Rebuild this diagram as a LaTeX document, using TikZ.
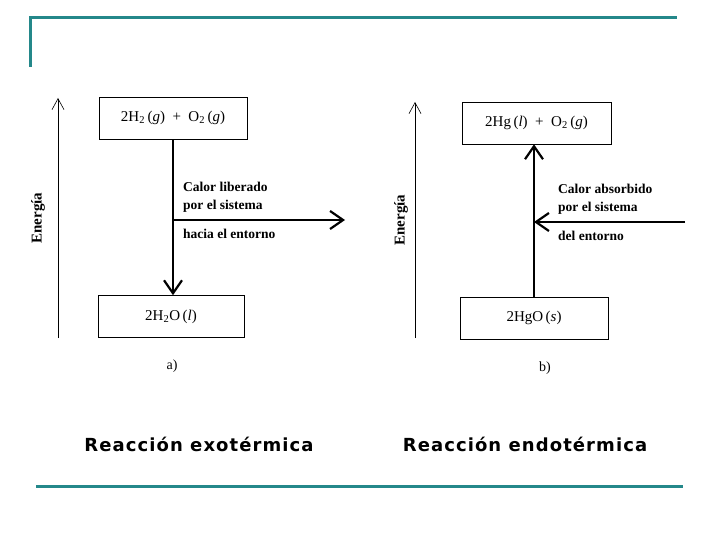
\documentclass[tikz,border=0pt]{standalone}
\usepackage{fontspec}
\setmainfont{Liberation Serif}
\newfontfamily\capfont[LetterSpace=6]{DejaVu Sans}
\usetikzlibrary{arrows.meta, positioning}
\definecolor{slideTeal}{HTML}{24888A}

\begin{document}
\begin{tikzpicture}[x=1pt, y=-1pt,
      level/.style={rectangle, draw=black, semithick, minimum width=148pt,
                    minimum height=42pt, inner sep=0pt,
                    font=\fontsize{15}{17}\selectfont},
      axis/.style={-{Straight Barb[length=11pt,width=12pt]}, semithick},
      flow/.style={-{Straight Barb[length=13pt,width=18pt]}, line width=2.2pt},
      heat/.style={anchor=west, align=left, inner sep=0pt,
                   font=\bfseries\fontsize{13.5}{18}\selectfont},
      ylabel/.style={rotate=90, font=\bfseries\fontsize{15}{17}\selectfont},
      tag/.style={font=\fontsize{14}{16}\selectfont},
      caption/.style={font=\capfont\bfseries\fontsize{18}{20}\selectfont},
      rule/.style={slideTeal, line width=3pt}
    ]
    \useasboundingbox (0,0) rectangle (720,540);

    % frame of the slide
    \draw[rule] (30,67) -- (30,18) -- (677,18);
    \draw[rule] (36,486) -- (683,486);

    % a) exothermic
    \coordinate (axLbot) at (58,338);
    \coordinate (axLtop) at (58,98);
    \draw[axis] (axLbot) -- (axLtop);
    \node[ylabel] (enL) at (38,218) {Energía};

    \node[level] (reacL) at (173,118) {2H\textsubscript{2}\,(\textit{g})\enspace+\enspace O\textsubscript{2}\,(\textit{g})};
    \node[level, minimum width=146pt] (prodL) at (171,316.5) {2H\textsubscript{2}O\,(\textit{l})};
    \draw[flow] (reacL) -- (reacL |- prodL.north);

    \coordinate (outL) at (345,220);
    \draw[flow] (reacL |- outL) -- (outL);
    \node[heat] (heatL) at (183,197) {Calor liberado\\por el sistema};
    \node[heat] (toL) at (183,234) {hacia el entorno};
    \node[tag] (tagA) at (172,366) {a)};

    % b) endothermic
    \coordinate (axRbot) at (415,338);
    \coordinate (axRtop) at (415,102);
    \draw[axis] (axRbot) -- (axRtop);
    \node[ylabel] (enR) at (401,220) {Energía};

    \node[level, minimum width=149pt] (reacR) at (536.5,123) {2Hg\,(\textit{l})\enspace+\enspace O\textsubscript{2}\,(\textit{g})};
    \node[level] (prodR) at (534,318) {2HgO\,(\textit{s})};
    \draw[flow] (prodR) -- (prodR |- reacR.south);

    \coordinate (inR) at (685,222);
    \draw[flow] (inR) -- (prodR |- inR);
    \node[heat] (heatR) at (558,199) {Calor absorbido\\por el sistema};
    \node[heat] (fromR) at (558,236) {del entorno};
    \node[tag] (tagB) at (545,368) {b)};

    % captions
    \node[caption] (capL) at (199,444) {Reacción exotérmica};
    \node[caption] (capR) at (525,444) {Reacción endotérmica};
\end{tikzpicture}
\end{document}
